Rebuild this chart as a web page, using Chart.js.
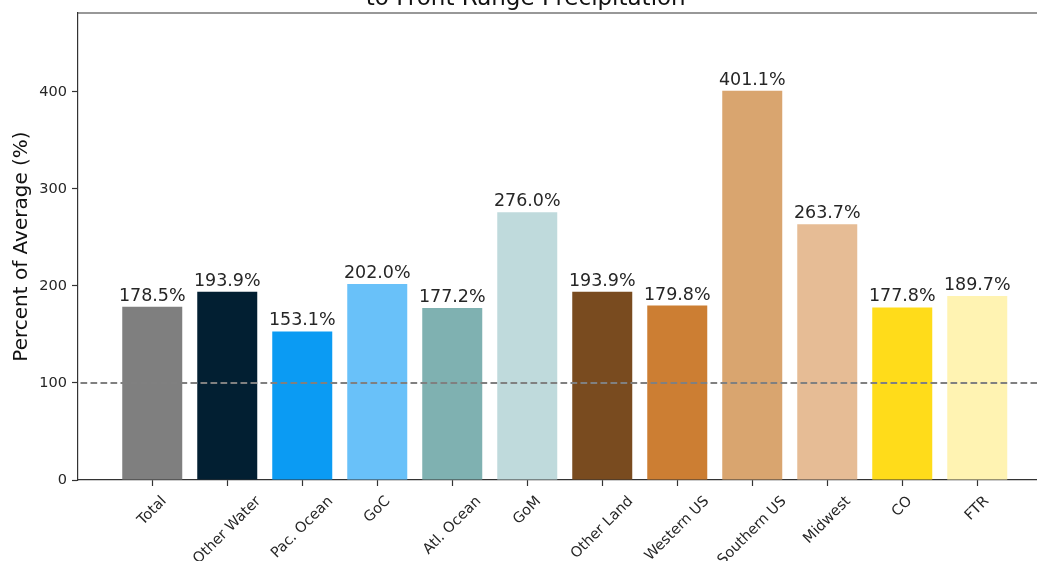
<!DOCTYPE html>
<html>
<head>
<meta charset="utf-8">
<title>Percent of Average by Moisture Source</title>
<script src="https://cdn.jsdelivr.net/npm/chart.js@4.4.1/dist/chart.umd.min.js"></script>
<style>
  html, body { margin: 0; padding: 0; background: #ffffff; overflow: hidden; width: 1037px; height: 561px; }
  #wrap { position: absolute; left: 0; top: -30px; width: 1070px; height: 640px; }
</style>
</head>
<body>
<div id="wrap"><canvas id="chart"></canvas></div>
<script>
// Moisture source regions and their percent of average contribution
const categories = ['Total', 'Other Water', 'Pac. Ocean', 'GoC', 'Atl. Ocean', 'GoM',
                    'Other Land', 'Western US', 'Southern US', 'Midwest', 'CO', 'FTR'];
const percentOfAverage = [178.5, 193.9, 153.1, 202.0, 177.2, 276.0,
                          193.9, 179.8, 401.1, 263.7, 177.8, 189.7];
const barColors = ['#7f7f7f', '#021f32', '#0b9bf3', '#69c1f9', '#7fb1b1', '#bfdadc',
                   '#794b1f', '#cc7e33', '#d9a56f', '#e6bc95', '#ffdc1a', '#fff3b2'];
const yTicks = [0, 100, 200, 300, 400];
const referenceLevel = 100;
const titleText = 'to Front Range Precipitation';
const yAxisTitle = 'Percent of Average (%)';

const FONT = 'DejaVu Sans';
Chart.defaults.font.family = FONT;

// y range leaves 20% headroom above the tallest bar; x range pads the bars by 5%
const yMax = Math.max(...percentOfAverage) * 1.2;
const xPad = (categories.length - 1 + 0.8) * 0.05;

// Top/right spines of the axes frame
const framePlugin = {
  id: 'frame',
  afterDraw(chart) {
    const { ctx, chartArea: a } = chart;
    ctx.save();
    ctx.strokeStyle = '#333333';
    ctx.lineWidth = 1.2;
    ctx.beginPath();
    ctx.moveTo(a.left, a.top);
    ctx.lineTo(a.right, a.top);
    ctx.lineTo(a.right, a.bottom);
    ctx.stroke();
    ctx.restore();
  }
};

// Dashed reference line and value labels over the bars
const overlayPlugin = {
  id: 'overlay',
  afterDatasetsDraw(chart) {
    const { ctx, chartArea: a, scales } = chart;
    const y = scales.y.getPixelForValue(referenceLevel);
    ctx.save();
    ctx.strokeStyle = '#808080';
    ctx.lineWidth = 1.8;
    ctx.setLineDash([6.7, 3.3]);
    ctx.lineDashOffset = -2.5;
    ctx.beginPath();
    ctx.moveTo(a.left, y);
    ctx.lineTo(a.right, y);
    ctx.stroke();
    ctx.setLineDash([]);

    ctx.fillStyle = '#262626';
    ctx.font = '17.5px "' + FONT + '"';
    ctx.textAlign = 'center';
    ctx.textBaseline = 'alphabetic';
    const meta = chart.getDatasetMeta(0);
    meta.data.forEach((bar, i) => {
      ctx.fillText(percentOfAverage[i].toFixed(1) + '%', bar.x, bar.y - 6);
    });
    ctx.restore();
  }
};

// Category labels rotated 45 degrees, centred under each tick
const xLabelPlugin = {
  id: 'xLabels',
  afterDraw(chart) {
    const { ctx, chartArea: a, scales } = chart;
    const size = 14.5;
    ctx.save();
    ctx.fillStyle = '#262626';
    ctx.font = size + 'px "' + FONT + '"';
    ctx.textAlign = 'center';
    ctx.textBaseline = 'middle';
    const top = a.bottom + 13;
    categories.forEach((label, i) => {
      const x = scales.x.getPixelForValue(i);
      const w = ctx.measureText(label).width;
      const d = (w + size * 1.17) / Math.SQRT2;
      ctx.save();
      ctx.translate(x, top + d / 2);
      ctx.rotate(-Math.PI / 4);
      ctx.fillText(label, 0, 0);
      ctx.restore();
    });
    ctx.restore();
  }
};

new Chart(document.getElementById('chart'), {
  type: 'bar',
  data: {
    datasets: [{
      data: categories.map((c, i) => ({ x: i, y: percentOfAverage[i] })),
      backgroundColor: barColors,
      borderWidth: 0,
      barPercentage: 0.8,
      categoryPercentage: 1.0
    }]
  },
  options: {
    responsive: true,
    maintainAspectRatio: false,
    animation: false,
    devicePixelRatio: 1,
    layout: { padding: { top: 15.2, right: 18.5, left: 0, bottom: 0 } },
    plugins: {
      legend: { display: false },
      tooltip: { enabled: false },
      title: {
        display: true,
        text: titleText,
        color: '#111111',
        font: { family: FONT, size: 23, weight: 'normal', lineHeight: 1.2 },
        padding: { top: 0, bottom: 0.2 }
      }
    },
    scales: {
      x: {
        type: 'linear',
        offset: false,
        min: -0.4 - xPad,
        max: categories.length - 1 + 0.4 + xPad,
        afterBuildTicks(s) { s.ticks = categories.map((c, i) => ({ value: i })); },
        afterFit(s) { s.height = 130; },
        ticks: { display: false },
        grid: { offset: false, drawOnChartArea: false, drawTicks: true, tickLength: 6, color: '#333333', tickWidth: 1.2 },
        border: { display: true, color: '#333333', width: 1.2 }
      },
      y: {
        type: 'linear',
        min: 0,
        max: yMax,
        afterBuildTicks(s) { s.ticks = yTicks.map(v => ({ value: v })); },
        afterFit(s) { s.width = 78; },
        ticks: {
          color: '#262626',
          padding: 5,
          font: { family: FONT, size: 14.5 },
          callback: v => String(v)
        },
        grid: { drawOnChartArea: false, drawTicks: true, tickLength: 6, color: '#333333', tickWidth: 1.2 },
        border: { display: true, color: '#333333', width: 1.2 },
        title: {
          display: true,
          text: yAxisTitle,
          color: '#111111',
          font: { family: FONT, size: 20, lineHeight: 1.2 },
          padding: { top: 10, bottom: 0 }
        }
      }
    }
  },
  plugins: [framePlugin, overlayPlugin, xLabelPlugin]
});
</script>
</body>
</html>
